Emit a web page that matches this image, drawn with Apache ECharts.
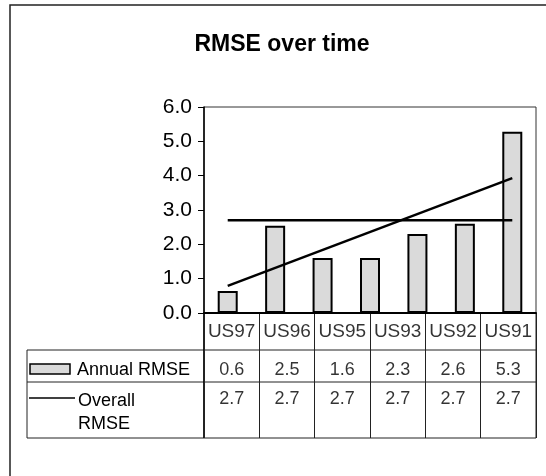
<!DOCTYPE html>
<html>
<head>
<meta charset="utf-8">
<script src="https://cdn.jsdelivr.net/npm/echarts@6/dist/echarts.min.js"></script>
<style>
  html, body { margin: 0; padding: 0; background: #fff; }
  #chart { width: 546px; height: 476px; }
</style>
</head>
<body>
<div id="chart"></div>
<script>
// Bars plotted per survey year
const barCategories = ['US97', 'US96', 'US95', 'US94', 'US93', 'US92', 'US91'];
const annualRMSE = [0.64, 2.54, 1.6, 1.6, 2.3, 2.6, 5.28];
const overallRMSE = 2.7;
// Linear trend through the annual values (start and end)
const trendEnds = [0.79, 3.93];

// Data table underneath the plot
const tableHeaders = ['US97', 'US96', 'US95', 'US93', 'US92', 'US91'];
const tableAnnual = [0.6, 2.5, 1.6, 2.3, 2.6, 5.3];
const tableOverall = [2.7, 2.7, 2.7, 2.7, 2.7, 2.7];
const yTicks = [0, 1, 2, 3, 4, 5, 6];

// Layout
const FONT = "'Liberation Sans', Arial, sans-serif";
const PLOT = { left: 204, top: 107, width: 332, height: 206 };
const TABLE = { left: 204, top: 313, width: 332, height: 125 };
const LEGEND_LEFT = 27;
const ROW_HEADER_Y = 19;   // offsets from table top (table y-axis units)
const ROW_ANNUAL_Y = 57;
const ROW_OVERALL_Y = 86;
const ROW_LINE_1 = 37;
const ROW_LINE_2 = 69;

const chart = echarts.init(document.getElementById('chart'), null, { renderer: 'canvas' });

function rowSeries(name, labels, y, size) {
  return {
    name: name,
    type: 'scatter',
    xAxisIndex: 1,
    yAxisIndex: 1,
    silent: true,
    symbolSize: 1,
    itemStyle: { color: 'rgba(0,0,0,0)' },
    label: {
      show: true,
      position: 'inside',
      color: '#000',
      fontFamily: FONT,
      fontSize: size,
      formatter: p => labels[p.dataIndex]
    },
    data: labels.map((_, i) => [tableHeaders[i], y])
  };
}

const option = {
  animation: false,
  backgroundColor: '#fff',
  title: {
    text: 'RMSE over time',
    left: 277,
    textAlign: 'center',
    top: 28,
    textStyle: { fontFamily: FONT, fontSize: 23, fontWeight: 'bold', color: '#000' }
  },
  grid: [
    { left: PLOT.left, top: PLOT.top, width: PLOT.width, height: PLOT.height,
      show: true, borderColor: '#333', borderWidth: 1, backgroundColor: 'transparent' },
    { left: TABLE.left, top: TABLE.top, width: TABLE.width, height: TABLE.height,
      show: true, borderColor: '#222', borderWidth: 1, backgroundColor: 'transparent' }
  ],
  xAxis: [
    {
      type: 'category',
      gridIndex: 0,
      data: barCategories,
      boundaryGap: true,
      axisLine: { show: true, lineStyle: { color: '#000', width: 2 } },
      axisTick: { show: false },
      axisLabel: { show: false },
      splitLine: { show: false }
    },
    {
      type: 'category',
      gridIndex: 1,
      data: tableHeaders,
      boundaryGap: true,
      axisLine: { show: false },
      axisTick: { show: false },
      axisLabel: { show: false },
      splitLine: { show: true, interval: 0, lineStyle: { color: '#222', width: 1 } }
    }
  ],
  yAxis: [
    {
      type: 'value',
      gridIndex: 0,
      min: yTicks[0],
      max: yTicks[yTicks.length - 1],
      interval: 1,
      axisLine: { show: true, lineStyle: { color: '#000', width: 1.5 } },
      axisTick: { show: true, length: 6, lineStyle: { color: '#000', width: 1 } },
      axisLabel: {
        margin: 12,
        color: '#000',
        fontFamily: FONT,
        fontSize: 21,
        formatter: v => v.toFixed(1)
      },
      splitLine: { show: false }
    },
    {
      type: 'value',
      gridIndex: 1,
      min: 0,
      max: TABLE.height,
      inverse: true,
      show: false
    }
  ],
  series: [
    {
      name: 'Annual RMSE',
      type: 'bar',
      xAxisIndex: 0,
      yAxisIndex: 0,
      barWidth: 20,
      silent: true,
      itemStyle: { color: '#dadada', borderColor: '#000', borderWidth: 2 },
      data: annualRMSE
    },
    {
      name: 'Overall RMSE',
      type: 'line',
      xAxisIndex: 0,
      yAxisIndex: 0,
      silent: true,
      symbol: 'none',
      z: 5,
      lineStyle: { color: '#000', width: 2.5 },
      data: barCategories.map(() => overallRMSE)
    },
    {
      name: 'Trend',
      type: 'line',
      xAxisIndex: 0,
      yAxisIndex: 0,
      silent: true,
      symbol: 'none',
      z: 5,
      lineStyle: { color: '#000', width: 2.5 },
      data: [[barCategories[0], trendEnds[0]], [barCategories[barCategories.length - 1], trendEnds[1]]]
    },
    rowSeries('header', tableHeaders, ROW_HEADER_Y, 19),
    rowSeries('annualRow', tableAnnual.map(v => v.toFixed(1)), ROW_ANNUAL_Y, 18),
    rowSeries('overallRow', tableOverall.map(v => v.toFixed(1)), ROW_OVERALL_Y, 18)
  ],
  graphic: [
    // outer chart frame
    { type: 'rect', shape: { x: 10, y: 5, width: 600, height: 600 },
      style: { fill: 'none', stroke: '#222', lineWidth: 1.5 }, silent: true },
    // legend key box of the data table
    { type: 'line', shape: { x1: LEGEND_LEFT, y1: TABLE.top + ROW_LINE_1, x2: TABLE.left + TABLE.width, y2: TABLE.top + ROW_LINE_1 },
      style: { stroke: '#222', lineWidth: 1 }, silent: true },
    { type: 'line', shape: { x1: LEGEND_LEFT, y1: TABLE.top + ROW_LINE_2, x2: TABLE.left + TABLE.width, y2: TABLE.top + ROW_LINE_2 },
      style: { stroke: '#222', lineWidth: 1 }, silent: true },
    { type: 'line', shape: { x1: LEGEND_LEFT, y1: TABLE.top + TABLE.height, x2: TABLE.left, y2: TABLE.top + TABLE.height },
      style: { stroke: '#222', lineWidth: 1 }, silent: true },
    { type: 'line', shape: { x1: LEGEND_LEFT, y1: TABLE.top + ROW_LINE_1, x2: LEGEND_LEFT, y2: TABLE.top + TABLE.height },
      style: { stroke: '#222', lineWidth: 1 }, silent: true },
    { type: 'line', shape: { x1: TABLE.left, y1: PLOT.top + PLOT.height, x2: TABLE.left, y2: TABLE.top + TABLE.height },
      style: { stroke: '#000', lineWidth: 1.5 }, silent: true },
    // legend keys
    { type: 'rect', shape: { x: 30, y: 364, width: 40, height: 10 },
      style: { fill: '#dadada', stroke: '#000', lineWidth: 1.5 }, silent: true },
    { type: 'text', x: 77, y: 370, silent: true,
      style: { text: 'Annual RMSE', fill: '#000', font: '18px ' + FONT, verticalAlign: 'middle', align: 'left' } },
    { type: 'line', shape: { x1: 29, y1: 398, x2: 75, y2: 398 },
      style: { stroke: '#000', lineWidth: 1.5 }, silent: true },
    { type: 'text', x: 78, y: 401, silent: true,
      style: { text: 'Overall', fill: '#000', font: '18px ' + FONT, verticalAlign: 'middle', align: 'left' } },
    { type: 'text', x: 78, y: 424, silent: true,
      style: { text: 'RMSE', fill: '#000', font: '18px ' + FONT, verticalAlign: 'middle', align: 'left' } }
  ]
};

chart.setOption(option);
</script>
</body>
</html>
